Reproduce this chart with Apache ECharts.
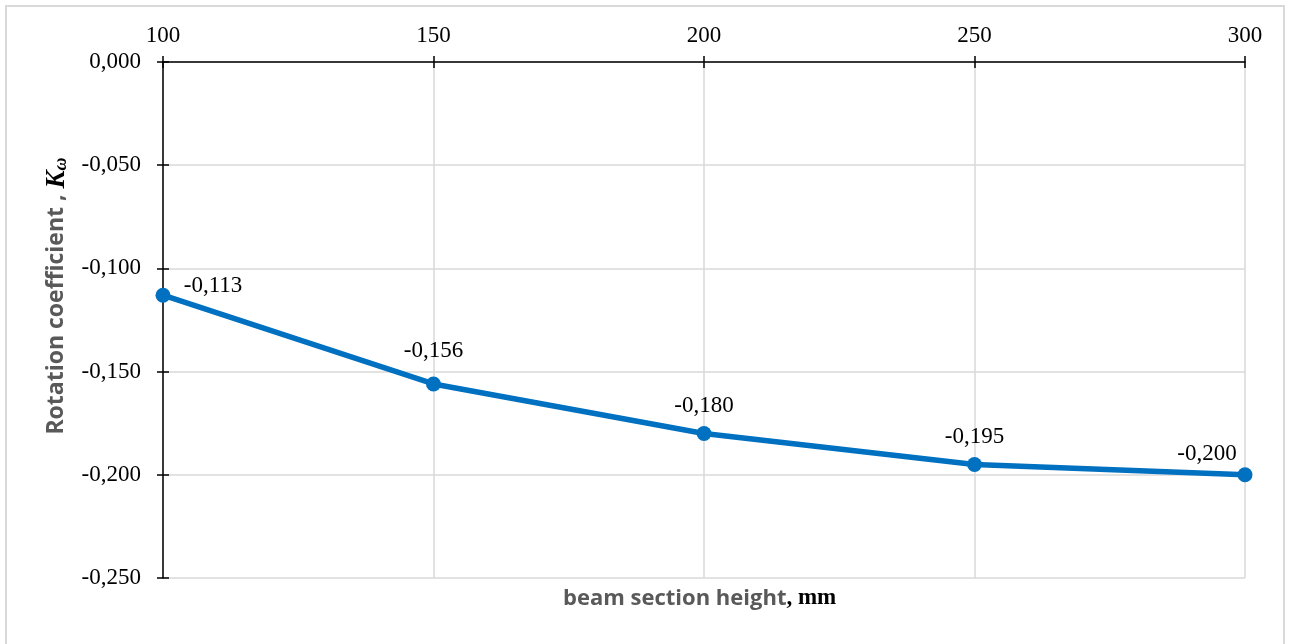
<!DOCTYPE html>
<html><head><meta charset="utf-8">
<script src="https://cdn.jsdelivr.net/npm/echarts@6/dist/echarts.min.js"></script>
<style>html,body{margin:0;padding:0;background:#fff}#c{width:1290px;height:644px}</style>
</head><body><div id="c"></div>
<script>
const heights = [100, 150, 200, 250, 300];
const kOmega = [-0.113, -0.156, -0.180, -0.195, -0.200];
const xTicks = [100, 150, 200, 250, 300];
const yTicks = [0, -0.05, -0.10, -0.15, -0.20, -0.25];

const fmt = v => v.toFixed(3).replace('.', ',');
const serif = '"Liberation Serif", "DejaVu Serif", serif';
const sans = '"Open Sans", "Liberation Sans", sans-serif';

const labelOffsets = [[50, -9], [0, -33], [0, -28], [0, -28], [-38, -21]];
const seriesData = heights.map((h, i) => ({
  value: [h, kOmega[i]],
  label: { offset: labelOffsets[i] }
}));

const chart = echarts.init(document.getElementById('c'));
const axisCommon = {
  type: 'value', min: -0.25, max: 0, interval: 0.05
};
chart.setOption({
  animation: false,
  backgroundColor: '#fff',
  grid: { left: 163, right: 45, top: 62, bottom: 66 },
  graphic: [{
    type: 'rect', shape: { x: 6, y: 6, width: 1278, height: 660 },
    style: { fill: 'none', stroke: '#d9d9d9', lineWidth: 2 }, silent: true
  }, {
    type: 'text', left: 563, top: 587,
    style: {
      text: '{a|beam section height}{b|, mm}',
      rich: {
        a: { fontFamily: sans, fontWeight: 'bold', fontSize: 22, fill: '#595959' },
        b: { fontFamily: serif, fontWeight: 'bold', fontSize: 23, fill: '#000' }
      }
    }
  }],
  xAxis: [{
    type: 'value', position: 'top', min: 100, max: 300, interval: 50,
    axisLine: { show: true, onZero: false, lineStyle: { color: '#000', width: 1.5 } },
    axisTick: { show: true, length: 6, lineStyle: { color: '#000', width: 1.5 } },
    axisLabel: { fontFamily: serif, fontSize: 23, color: '#000', margin: 15,
      formatter: v => xTicks.includes(v) ? String(v) : '' },
    splitLine: { show: true, lineStyle: { color: '#d9d9d9', width: 1.5 } }
  }, {
    type: 'value', position: 'top', min: 100, max: 300, interval: 50,
    axisLine: { show: false },
    axisTick: { show: true, inside: true, length: 6, lineStyle: { color: '#000', width: 1.5 } },
    axisLabel: { show: false }, splitLine: { show: false }
  }],
  yAxis: [Object.assign({}, axisCommon, {
    name: '{a|Rotation coefficient , }{k|K}{w|ω}',
    nameLocation: 'middle', nameRotate: 90, nameGap: 82,
    nameTextStyle: {
      padding: [0, 0, 0, 48],
      rich: {
        a: { fontFamily: sans, fontWeight: 'bold', fontSize: 23, color: '#595959' },
        k: { fontFamily: serif, fontWeight: 'bold', fontStyle: 'italic', fontSize: 27, color: '#000' },
        w: { fontFamily: serif, fontWeight: 'bold', fontStyle: 'italic', fontSize: 18, color: '#000', verticalAlign: 'bottom', padding: [10, 0, 0, 0] }
      }
    },
    axisLine: { show: true, onZero: false, lineStyle: { color: '#000', width: 1.5 } },
    axisTick: { show: true, length: 6, lineStyle: { color: '#000', width: 1.5 } },
    axisLabel: { fontFamily: serif, fontSize: 23, color: '#000', margin: 22,
      formatter: v => fmt(v) },
    splitLine: { show: true, lineStyle: { color: '#d9d9d9', width: 1.5 } }
  }), Object.assign({}, axisCommon, {
    position: 'left',
    axisLine: { show: false },
    axisTick: { show: true, inside: true, length: 6, lineStyle: { color: '#000', width: 1.5 } },
    axisLabel: { show: false }, splitLine: { show: false }
  })],
  series: [{
    type: 'line', data: seriesData,
    symbol: 'circle', symbolSize: 15,
    lineStyle: { color: '#0070C0', width: 5.5 },
    itemStyle: { color: '#0070C0' },
    label: { show: true, position: 'inside', fontFamily: serif, fontSize: 23, color: '#000',
      formatter: p => fmt(p.value[1]) },
    z: 5
  }]
});
</script></body></html>
